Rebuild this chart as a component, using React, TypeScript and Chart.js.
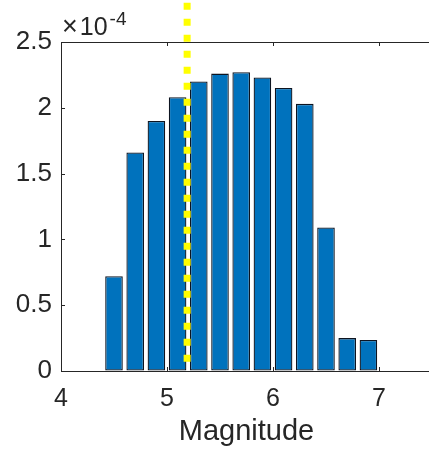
import React, { useEffect, useRef } from "react";
import { Chart, registerables } from "chart.js";

Chart.register(...registerables);

// Histogram bins (magnitude) and normalised counts
const binEdges = [4.4, 4.6, 4.8, 5.0, 5.2, 5.4, 5.6, 5.8, 6.0, 6.2, 6.4, 6.6, 6.8, 7.0];
const density = [
  0.72e-4, 1.66e-4, 1.9e-4, 2.08e-4, 2.2e-4, 2.26e-4, 2.27e-4,
  2.23e-4, 2.15e-4, 2.03e-4, 1.09e-4, 0.25e-4, 0.235e-4,
];

// Reference magnitude marker
const markerX = 5.19;
const markerYRange = [0.07e-4, 2.9e-4];

const xTicks = [4, 5, 6, 7];
const yTicks = [0, 0.5e-4, 1e-4, 1.5e-4, 2e-4, 2.5e-4];

const FONT = "'Liberation Sans', Arial, Helvetica, sans-serif";
const AXIS_COLOR = "#262626";

const matlabAxes = {
  id: "matlabAxes",
  afterDraw(chart: any) {
    const { ctx, chartArea } = chart;
    const xs = chart.scales.x;
    const ys = chart.scales.y;
    const tick = 4;
    ctx.save();
    ctx.strokeStyle = AXIS_COLOR;
    ctx.lineWidth = 1;
    ctx.beginPath();
    // top box edge
    ctx.moveTo(chartArea.left, chartArea.top + 0.5);
    ctx.lineTo(chartArea.right, chartArea.top + 0.5);
    // inward ticks on x (bottom and top)
    for (const v of xTicks) {
      const px = Math.round(xs.getPixelForValue(v)) + 0.5;
      ctx.moveTo(px, chartArea.bottom);
      ctx.lineTo(px, chartArea.bottom - tick);
      ctx.moveTo(px, chartArea.top);
      ctx.lineTo(px, chartArea.top + tick);
    }
    // inward ticks on y
    for (const v of yTicks) {
      const py = Math.round(ys.getPixelForValue(v)) + 0.5;
      ctx.moveTo(chartArea.left, py);
      ctx.lineTo(chartArea.left + tick, py);
    }
    ctx.stroke();

    // exponent label: ×10^-4
    ctx.fillStyle = AXIS_COLOR;
    ctx.textBaseline = "alphabetic";
    ctx.textAlign = "left";
    const x0 = chartArea.left + 1;
    ctx.font = `27px ${FONT}`;
    ctx.fillText("\u00d7", x0, 35);
    const wTimes = ctx.measureText("\u00d7").width;
    ctx.font = `25px ${FONT}`;
    ctx.fillText("10", x0 + wTimes + 2, 35);
    const wTen = ctx.measureText("10").width;
    ctx.font = `19px ${FONT}`;
    ctx.fillText("-4", x0 + wTimes + 2 + wTen + 2, 25);
    ctx.restore();
  },
};

export default function App() {
  const canvasRef = useRef<HTMLCanvasElement | null>(null);

  useEffect(() => {
    document.body.style.margin = "0";
    const canvas = canvasRef.current;
    if (!canvas) return;

    const bars = density.map((y, i) => ({
      x: (binEdges[i] + binEdges[i + 1]) / 2,
      y,
    }));

    const chart = new Chart(canvas, {
      type: "bar",
      data: {
        datasets: [
          {
            type: "line",
            data: [
              { x: markerX, y: markerYRange[0] },
              { x: markerX, y: markerYRange[1] },
            ],
            borderColor: "#FFFF00",
            borderWidth: 7,
            borderDash: [7, 9],
            borderCapStyle: "butt",
            pointRadius: 0,
            clip: false,
            order: 0,
          } as any,
          {
            type: "bar",
            data: bars,
            backgroundColor: "#0072BD",
            borderColor: "#0d1420",
            borderWidth: 1.3,
            borderSkipped: false,
            categoryPercentage: 1,
            barPercentage: 0.83,
            order: 1,
          } as any,
        ],
      },
      options: {
        responsive: false,
        animation: false,
        devicePixelRatio: 1,
        layout: { padding: { left: 0, top: 42, right: 13, bottom: 0 } },
        plugins: {
          legend: { display: false },
          tooltip: { enabled: false },
        },
        scales: {
          x: {
            type: "linear",
            min: 4,
            max: 7.5,
            offset: false,
            grid: { display: true, drawOnChartArea: false, drawTicks: false, offset: false },
            border: { display: true, color: AXIS_COLOR, width: 1 },
            ticks: {
              stepSize: 1,
              includeBounds: false,
              autoSkip: false,
              maxRotation: 0,
              padding: 13,
              color: AXIS_COLOR,
              font: { family: FONT, size: 25 },
            },
            title: {
              display: true,
              text: "Magnitude",
              color: AXIS_COLOR,
              font: { family: FONT, size: 29 },
              padding: { top: 0, bottom: 0 },
            },
            afterFit(scale: any) {
              scale.height = 78;
            },
          },
          y: {
            type: "linear",
            min: 0,
            max: 2.5e-4,
            grid: { display: true, drawOnChartArea: false, drawTicks: false },
            border: { display: true, color: AXIS_COLOR, width: 1 },
            ticks: {
              stepSize: 0.5e-4,
              padding: 9,
              color: AXIS_COLOR,
              font: { family: FONT, size: 26 },
              callback: (v: any) => String(Math.round(Number(v) * 1e5) / 10),
            },
            afterFit(scale: any) {
              scale.width = 61;
            },
          },
        },
      },
      plugins: [matlabAxes],
    });

    return () => chart.destroy();
  }, []);

  return (
    <div style={{ position: "absolute", left: 0, top: 0, width: 429, height: 449, overflow: "hidden", background: "#fff" }}>
      <canvas ref={canvasRef} width={445} height={449} style={{ display: "block" }} />
    </div>
  );
}
